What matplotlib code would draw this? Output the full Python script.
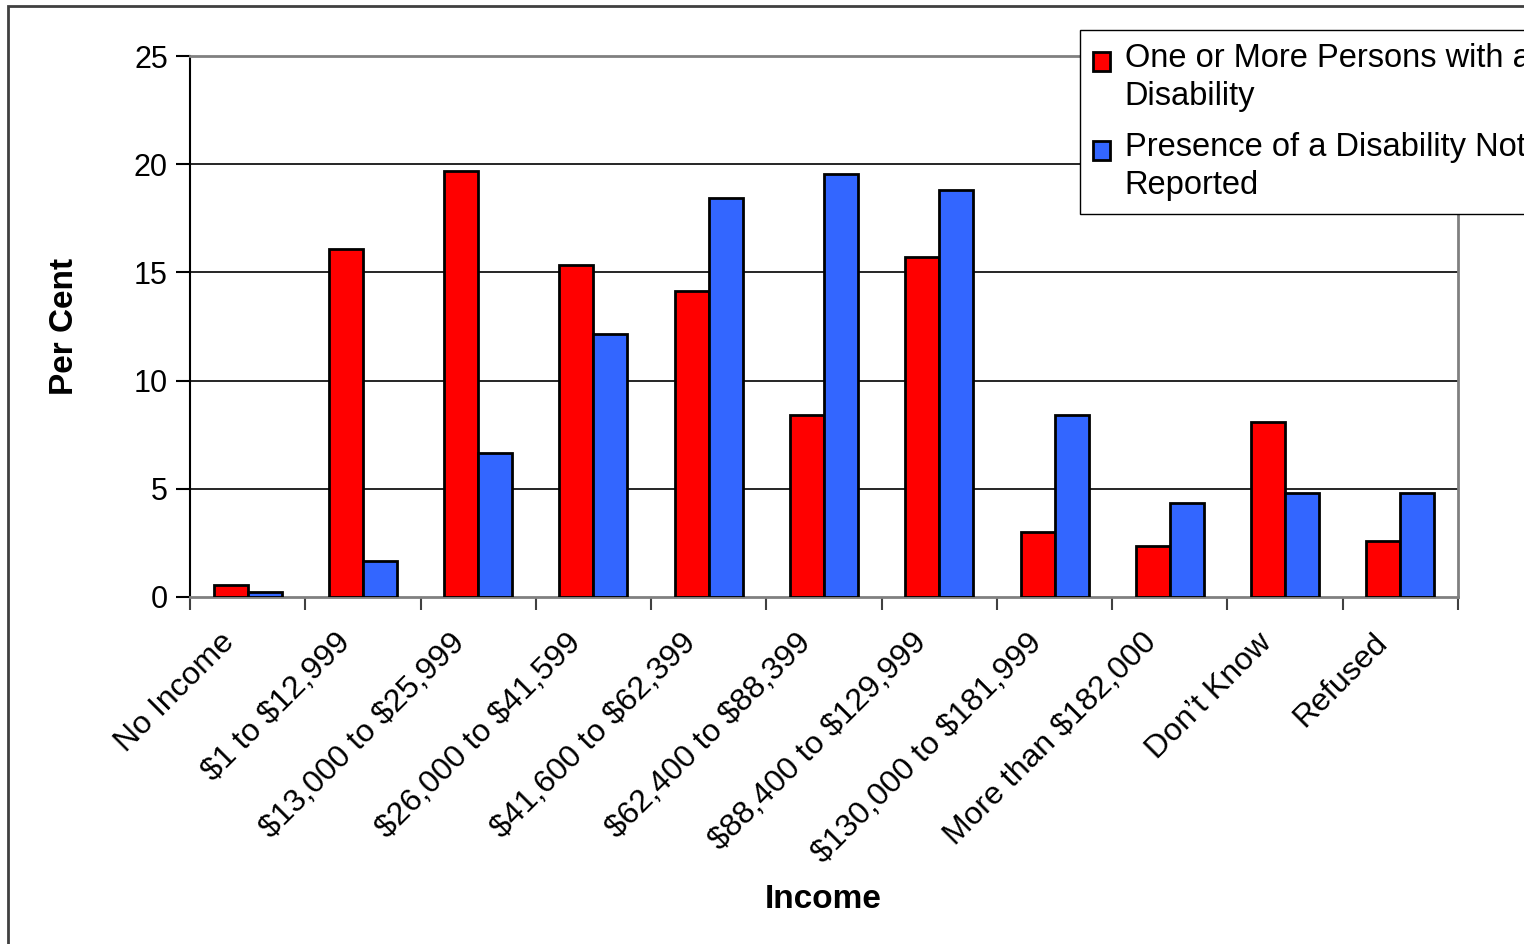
import matplotlib.pyplot as plt
import matplotlib.patches as mpatches
import matplotlib.transforms as mtransforms
from matplotlib.container import BarContainer
from matplotlib.legend_handler import HandlerPatch, update_from_first_child
import numpy as np

plt.rcParams['font.family'] = ['Liberation Sans', 'DejaVu Sans']
plt.rcParams['text.parse_math'] = False

categories = ['No Income', '$1 to $12,999', '$13,000 to $25,999', '$26,000 to $41,599',
              '$41,600 to $62,399', '$62,400 to $88,399', '$88,400 to $129,999',
              '$130,000 to $181,999', 'More than $182,000', 'Don\u2019t Know', 'Refused']
with_disability = [0.55, 16.1, 19.7, 15.35, 14.15, 8.4, 15.7, 3.0, 2.35, 8.1, 2.6]
not_reported = [0.25, 1.65, 6.65, 12.15, 18.45, 19.55, 18.8, 8.4, 4.35, 4.8, 4.8]
yticks = [0, 5, 10, 15, 20, 25]

fig = plt.figure(figsize=(15.24, 9.44), dpi=100)
ax = fig.add_axes([190/1524, 1-597/944, (1458-190)/1524, (597-56)/944])

# outer chart border
fig.patches.append(mpatches.Rectangle((8/1524, -0.1), 1.2, 1-6/944+0.1, transform=fig.transFigure,
                                      fill=False, edgecolor='#404040', linewidth=2))

x = np.arange(len(categories))
w = 0.295
ax.bar(x - w/2, with_disability, w, color='#ff0000', edgecolor='black', linewidth=2,
       label='One or More Persons with a\nDisability', zorder=3)
ax.bar(x + w/2, not_reported, w, color='#3366ff', edgecolor='black', linewidth=2,
       label='Presence of a Disability Not\nReported', zorder=3)

ax.set_xlim(-0.5, len(categories) - 0.5)
ax.set_ylim(0, 25)
ax.set_yticks(yticks)
for v in yticks[1:-1]:
    ax.axhline(v, color='black', linewidth=1.2, zorder=1)

ax.set_xticks(x)
ax.set_xticklabels(categories, rotation=45, ha='right', va='top', rotation_mode='anchor', fontsize=23)
ax.set_xticks(np.arange(len(categories) + 1) - 0.5, minor=True)
ax.tick_params(axis='x', which='major', length=0, pad=22)
ax.tick_params(axis='x', which='minor', length=9, width=1.5, color='#404040', direction='out')
ax.tick_params(axis='y', length=10, width=1.5, labelsize=22, pad=6, direction='out')
# nudge the slanted labels left, as in the original
shift = mtransforms.ScaledTranslation(-28/100, 0, fig.dpi_scale_trans)
for lbl in ax.get_xticklabels():
    lbl.set_transform(lbl.get_transform() + shift)

ax.spines['left'].set_color('black')
ax.spines['left'].set_linewidth(1.5)
for s in ['top', 'right', 'bottom']:
    ax.spines[s].set_color('#808080')
    ax.spines[s].set_linewidth(2)

ax.set_ylabel('Per Cent', fontsize=24, fontweight='bold')
ax.set_xlabel('Income', fontsize=24, fontweight='bold')
ax.yaxis.set_label_coords(-0.087, 0.5)
ax.xaxis.set_label_coords(0.499, -0.53)


def top_square(legend, orig_handle, xdescent, ydescent, width, height, fontsize):
    # put the colour box level with the first line of the label
    return mpatches.Rectangle((-xdescent, -ydescent + 0.5 * fontsize), width, height)


leg = fig.legend(loc='upper left', bbox_to_anchor=(1080/1524, 1-30/944), fontsize=23.5,
                 frameon=True, fancybox=False, edgecolor='black', framealpha=1,
                 handlelength=0.52, handleheight=0.52, handletextpad=0.45, borderpad=0.4,
                 labelspacing=0.6, borderaxespad=0,
                 handler_map={BarContainer: HandlerPatch(patch_func=top_square,
                                                         update_func=update_from_first_child)})
for t in leg.get_texts():
    t.set_linespacing(1.3)

fig.savefig('out.png', dpi=100)
